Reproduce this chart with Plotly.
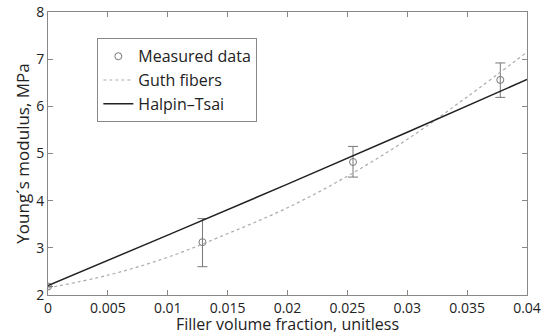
import plotly.graph_objects as go

meas_x = [0.0, 0.0129, 0.02547, 0.03777]
meas_y = [2.18, 3.12, 4.82, 6.56]
meas_err_plus = [0.0, 0.5, 0.33, 0.36]
meas_err_minus = [0.0, 0.52, 0.32, 0.37]

guth_x = [0.0, 0.005, 0.01, 0.015, 0.02, 0.025, 0.03, 0.035, 0.04]
guth_y = [2.15, 2.42, 2.8, 3.3, 3.85, 4.52, 5.3, 6.2, 7.15]

ht_x = [0.0, 0.01, 0.02, 0.03, 0.04]
ht_y = [2.2, 3.27, 4.35, 5.45, 6.57]

font = "Open Sans, DejaVu Sans, sans-serif"
fig = go.Figure()
fig.add_trace(go.Scatter(
    x=meas_x, y=meas_y, mode="markers", name="Measured data",
    marker=dict(symbol="circle-open", size=7, color="#777777", line=dict(width=1)),
    error_y=dict(type="data", symmetric=False, array=meas_err_plus, arrayminus=meas_err_minus,
                 color="#777777", thickness=1, width=5),
))
fig.add_trace(go.Scatter(
    x=guth_x, y=guth_y, mode="lines", name="Guth fibers",
    line=dict(color="#aaaaaa", width=1.2, dash="dot", shape="spline"),
))
fig.add_trace(go.Scatter(
    x=ht_x, y=ht_y, mode="lines", name="Halpin\u2013Tsai",
    line=dict(color="#222222", width=1.5, shape="spline"),
))

axis_common = dict(showline=True, linecolor="#888888", linewidth=1, mirror="allticks",
                   ticks="inside", ticklen=5, tickcolor="#888888", showgrid=False, automargin=False,
                   zeroline=False, tickfont=dict(family=font, size=14, color="#222"))
fig.update_xaxes(range=[0, 0.04], tickvals=[0, 0.005, 0.01, 0.015, 0.02, 0.025, 0.03, 0.035, 0.04],
                 ticktext=["0", "0.005", "0.01", "0.015", "0.02", "0.025", "0.03", "0.035", "0.04"],
                 title=dict(text="Filler volume fraction, unitless", font=dict(family=font, size=16, color="#222"), standoff=0),
                 **axis_common)
fig.update_yaxes(range=[2, 8], tickvals=[2, 3, 4, 5, 6, 7, 8],
                 title=dict(text="Young\u00b4s modulus, MPa", font=dict(family=font, size=17, color="#222"), standoff=2),
                 **axis_common)
fig.update_layout(
    width=543, height=335, margin=dict(l=48, r=16, t=12, b=40),
    plot_bgcolor="white", paper_bgcolor="white", showlegend=True,
    legend=dict(x=0.103, y=0.907, xanchor="left", yanchor="top", bordercolor="#888888", borderwidth=1,
                bgcolor="white", font=dict(family=font, size=16, color="#222"), tracegroupgap=0,
                itemwidth=30),
)
fig.write_html("out.html", config={"displayModeBar": False},
               post_script="document.body.style.margin='0';document.body.style.overflow='hidden';")
